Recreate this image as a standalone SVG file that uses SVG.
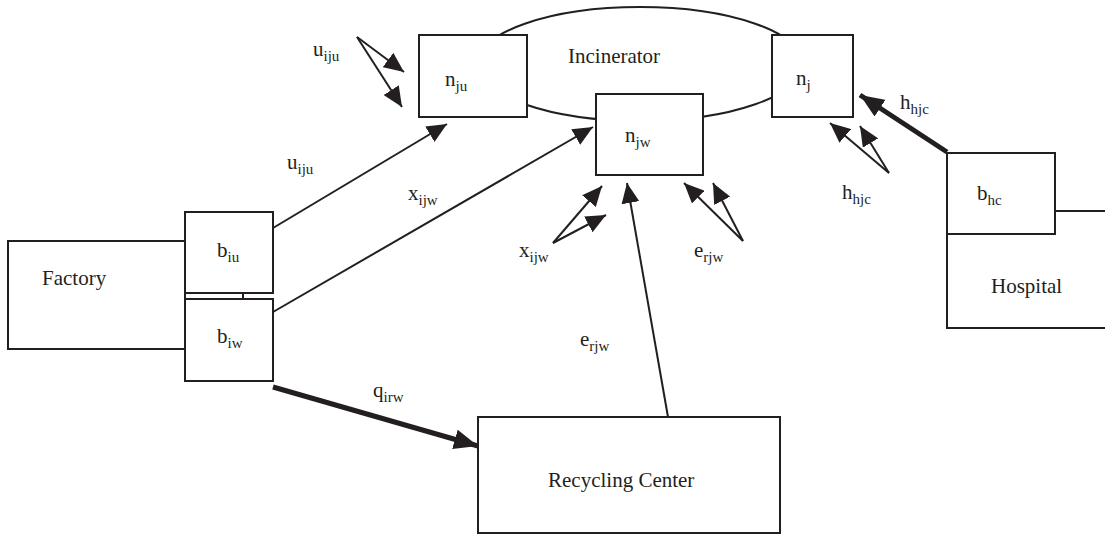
<svg xmlns="http://www.w3.org/2000/svg" width="1105" height="534" viewBox="0 0 1105 534">
<style>
.box{fill:#fff;stroke:#231f20;stroke-width:2}
.ln{fill:none;stroke:#231f20;stroke-width:2}
.thick{fill:none;stroke:#231f20;stroke-width:5}
text{font-family:"Liberation Serif","Times New Roman",serif;font-size:21px;fill:#231f20}
.sub{font-size:15px}
</style>
<defs>
<marker id="ah" markerUnits="userSpaceOnUse" markerWidth="20" markerHeight="18" refX="20" refY="9" orient="auto">
<path d="M0,0 L20,9 L0,18 z" fill="#231f20"/>
</marker>
<marker id="ahT" markerUnits="userSpaceOnUse" markerWidth="24" markerHeight="20" refX="24" refY="10" orient="auto">
<path d="M0,0 L24,10 L0,20 z" fill="#231f20"/>
</marker>
</defs>
<rect width="1105" height="534" fill="#fff"/>

<g id="incinerator">
<ellipse cx="640" cy="64" rx="163" ry="57" class="ln"/>
<text x="568" y="63">Incinerator</text>
</g>
<g id="factory">
<rect x="8" y="241" width="177" height="108" class="box"/>
<text x="42" y="285">Factory</text>
</g>
<g id="hospital">
<rect x="947" y="211" width="170" height="117" class="box"/>
<text x="991" y="293">Hospital</text>
</g>
<g id="recycling">
<rect x="478" y="417" width="302" height="116" class="box"/>
<text x="548" y="487">Recycling Center</text>
</g>
<g id="n_ju">
<rect x="419" y="35" width="108" height="82" class="box"/>
<text x="445" y="86">n<tspan class="sub" dy="5">ju</tspan></text>
</g>
<g id="n_jw">
<rect x="596" y="94" width="107" height="81" class="box"/>
<text x="625" y="142">n<tspan class="sub" dy="5">jw</tspan></text>
</g>
<g id="n_j">
<rect x="772" y="35" width="81" height="82" class="box"/>
<text x="796" y="85">n<tspan class="sub" dy="5">j</tspan></text>
</g>
<g id="b_iu">
<rect x="185" y="212" width="88" height="81" class="box"/>
<text x="217" y="257">b<tspan class="sub" dy="5">iu</tspan></text>
</g>
<g id="b_iw">
<rect x="185" y="299" width="88" height="82" class="box"/>
<text x="217" y="343">b<tspan class="sub" dy="5">iw</tspan></text>
</g>
<g id="b_hc">
<rect x="947" y="153" width="108" height="81" class="box"/>
<text x="977" y="200">b<tspan class="sub" dy="5">hc</tspan></text>
</g>

<g id="connectors">
<line x1="243" y1="293" x2="243" y2="299" class="ln"/>
<line x1="273" y1="228" x2="447" y2="124" class="ln" marker-end="url(#ah)"/>
<line x1="273" y1="312" x2="593" y2="127" class="ln" marker-end="url(#ah)"/>
<line x1="273" y1="387" x2="478" y2="446" class="thick" marker-end="url(#ahT)"/>
<line x1="668" y1="417" x2="627" y2="183" class="ln" marker-end="url(#ah)"/>
<line x1="357" y1="37" x2="404" y2="72" class="ln" marker-end="url(#ah)"/>
<line x1="357" y1="37" x2="402" y2="107" class="ln" marker-end="url(#ah)"/>
<line x1="553" y1="243" x2="602" y2="186" class="ln" marker-end="url(#ah)"/>
<line x1="553" y1="243" x2="606" y2="215" class="ln" marker-end="url(#ah)"/>
<line x1="743" y1="241" x2="684" y2="183" class="ln" marker-end="url(#ah)"/>
<line x1="743" y1="241" x2="713" y2="183" class="ln" marker-end="url(#ah)"/>
<line x1="889" y1="173" x2="830" y2="123" class="ln" marker-end="url(#ah)"/>
<line x1="889" y1="173" x2="860" y2="126" class="ln" marker-end="url(#ah)"/>
<line x1="947" y1="152" x2="860" y2="95" class="thick" marker-end="url(#ahT)"/>
</g>

<g id="labels">
<text x="313" y="56">u<tspan class="sub" dy="5">iju</tspan></text>
<text x="287" y="169">u<tspan class="sub" dy="5">iju</tspan></text>
<text x="408" y="200">x<tspan class="sub" dy="5">ijw</tspan></text>
<text x="519" y="257">x<tspan class="sub" dy="5">ijw</tspan></text>
<text x="694" y="257">e<tspan class="sub" dy="5">rjw</tspan></text>
<text x="580" y="346">e<tspan class="sub" dy="5">rjw</tspan></text>
<text x="373" y="397">q<tspan class="sub" dy="5">irw</tspan></text>
<text x="900" y="109">h<tspan class="sub" dy="5">hjc</tspan></text>
<text x="842" y="199">h<tspan class="sub" dy="5">hjc</tspan></text>
</g>
</svg>
